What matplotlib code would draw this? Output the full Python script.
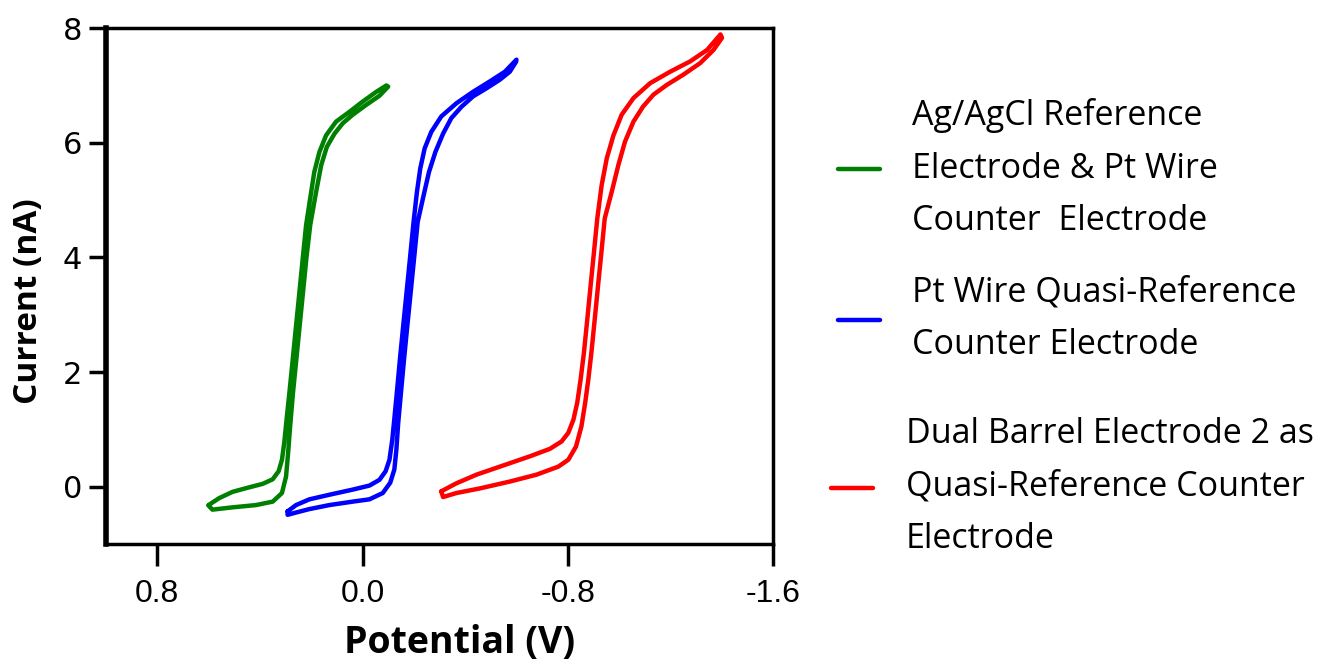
import numpy as np
import matplotlib.pyplot as plt

# green: Ag/AgCl reference + Pt wire counter
ag_fwd_x = [0.600, 0.559, 0.507, 0.441, 0.389, 0.350, 0.327, 0.314, 0.305, 0.296, 0.285, 0.272, 0.259, 0.246,
            0.233, 0.220, 0.204, 0.188, 0.168, 0.142, 0.103, 0.051, -0.001, -0.054, -0.093]
ag_fwd_y = [-0.32, -0.20, -0.09, -0.01, 0.05, 0.13, 0.27, 0.47, 0.77, 1.17, 1.64, 2.22, 2.81, 3.39,
            3.98, 4.56, 5.03, 5.49, 5.84, 6.13, 6.37, 6.54, 6.72, 6.89, 7.00]
ag_rev_x = [-0.100, -0.066, -0.014, 0.038, 0.077, 0.109, 0.139, 0.161, 0.181, 0.204, 0.219, 0.232, 0.245,
            0.258, 0.271, 0.282, 0.290, 0.298, 0.314, 0.350, 0.415, 0.507, 0.585, 0.600]
ag_rev_y = [6.98, 6.82, 6.66, 6.49, 6.34, 6.16, 5.93, 5.61, 5.14, 4.56, 3.98, 3.39, 2.81,
            2.22, 1.64, 1.06, 0.59, 0.18, -0.11, -0.26, -0.32, -0.36, -0.40, -0.33]

# blue: Pt wire quasi-reference counter
pt_fwd_x = [0.292, 0.259, 0.207, 0.129, 0.038, -0.027, -0.066, -0.090, -0.105, -0.116, -0.125, -0.135, -0.147,
            -0.160, -0.173, -0.186, -0.199, -0.212, -0.225, -0.242, -0.268, -0.307, -0.366, -0.431, -0.496,
            -0.555, -0.600]
pt_fwd_y = [-0.43, -0.32, -0.22, -0.14, -0.05, 0.02, 0.12, 0.27, 0.47, 0.82, 1.23, 1.70, 2.28,
            2.87, 3.45, 4.03, 4.62, 5.14, 5.55, 5.90, 6.19, 6.46, 6.69, 6.89, 7.07,
            7.24, 7.45]
pt_rev_x = [-0.598, -0.574, -0.535, -0.483, -0.431, -0.386, -0.346, -0.314, -0.284, -0.259, -0.238, -0.215,
            -0.202, -0.189, -0.176, -0.163, -0.151, -0.139, -0.132, -0.124, -0.108, -0.079, -0.027, 0.038,
            0.129, 0.207, 0.259, 0.292, 0.292]
pt_rev_y = [7.41, 7.24, 7.10, 6.95, 6.81, 6.63, 6.43, 6.16, 5.84, 5.49, 5.08, 4.62,
            4.03, 3.45, 2.87, 2.28, 1.70, 1.11, 0.65, 0.30, 0.07, -0.11, -0.22, -0.26,
            -0.32, -0.39, -0.45, -0.49, -0.43]

# red: dual barrel electrode 2
db_fwd_x = [-0.307, -0.366, -0.444, -0.548, -0.652, -0.730, -0.776, -0.802, -0.822, -0.837, -0.850, -0.863,
            -0.876, -0.889, -0.902, -0.915, -0.932, -0.952, -0.978, -1.010, -1.056, -1.121, -1.199, -1.277,
            -1.343, -1.395]
db_fwd_y = [-0.08, 0.06, 0.21, 0.37, 0.53, 0.66, 0.79, 0.94, 1.17, 1.47, 1.87, 2.34,
            2.92, 3.51, 4.09, 4.68, 5.26, 5.73, 6.13, 6.49, 6.78, 7.04, 7.24, 7.42,
            7.62, 7.89]
db_rev_x = [-1.401, -1.368, -1.316, -1.251, -1.186, -1.134, -1.093, -1.056, -1.023, -0.997, -0.971, -0.944,
            -0.931, -0.918, -0.905, -0.892, -0.880, -0.868, -0.853, -0.832, -0.802, -0.763, -0.678, -0.574,
            -0.457, -0.366, -0.314, -0.307]
db_rev_y = [7.83, 7.62, 7.39, 7.19, 7.01, 6.84, 6.63, 6.37, 6.02, 5.61, 5.14, 4.68,
            4.09, 3.51, 2.92, 2.34, 1.87, 1.47, 1.05, 0.70, 0.47, 0.35, 0.21, 0.09,
            -0.03, -0.11, -0.18, -0.08]

labels = ['Ag/AgCl Reference\nElectrode & Pt Wire\nCounter  Electrode',
          'Pt Wire Quasi-Reference\nCounter Electrode',
          'Dual Barrel Electrode 2 as\nQuasi-Reference Counter\nElectrode']
colors = ['#008000', '#0000ff', '#ff0000']
xticks = [0.8, 0.0, -0.8, -1.6]
yticks = [0, 2, 4, 6, 8]

fig = plt.figure(figsize=(13.21, 6.70), dpi=100)
ax = fig.add_axes([0.0802, 0.188, 0.505, 0.770])

curves = [(ag_fwd_x + ag_rev_x, ag_fwd_y + ag_rev_y),
          (pt_fwd_x + pt_rev_x, pt_fwd_y + pt_rev_y),
          (db_fwd_x + db_rev_x, db_fwd_y + db_rev_y)]
lines = []
for (cx, cy), c, lab in zip(curves, colors, labels):
    ln, = ax.plot(cx, cy, color=c, lw=3.2, solid_joinstyle='round', solid_capstyle='round', label=lab)
    lines.append(ln)

ax.set_xlim(1.0, -1.6)
ax.set_ylim(-1, 8)
ax.set_xticks(xticks)
ax.set_xticklabels(['%.1f' % v for v in xticks], family=['Liberation Sans', 'DejaVu Sans'], fontsize=23)
ax.set_yticks(yticks)
ax.set_yticklabels([str(v) for v in yticks], family='DejaVu Sans', fontsize=22)

ax.spines['left'].set_linewidth(4)
for s in ['bottom', 'top', 'right']:
    ax.spines[s].set_linewidth(2.5)
ax.tick_params(axis='x', length=16, width=2.5, pad=9)
ax.tick_params(axis='y', length=12, width=2.5, pad=5)

ax.set_xlabel('Potential (V)', family='Open Sans', fontweight='bold', fontsize=27)
ax.set_ylabel('Current (nA)', family='Open Sans', fontweight='bold', fontsize=24)
ax.xaxis.set_label_coords(0.53, -0.155)
ax.yaxis.set_label_coords(-0.092, 0.47)

legprops = dict(frameon=False, prop={'family': 'Open Sans', 'size': 24.5}, handlelength=1.25,
                handletextpad=0.95, labelspacing=1.1, borderpad=0, borderaxespad=0)
leg1 = fig.legend(lines[:2], labels[:2], loc='upper left', bbox_to_anchor=(0.634, 0.853), **legprops)
leg2 = fig.legend(lines[2:], labels[2:], loc='upper left', bbox_to_anchor=(0.629, 0.377), **legprops)
for leg in (leg1, leg2):
    for t in leg.get_texts():
        t.set_linespacing(1.7)

fig.savefig('out.png', dpi=100)
